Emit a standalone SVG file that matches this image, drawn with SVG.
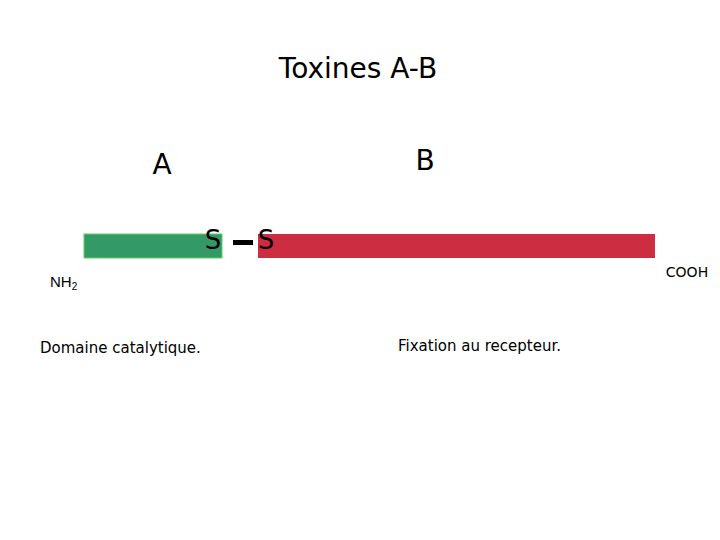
<svg xmlns="http://www.w3.org/2000/svg" width="720" height="540" viewBox="0 0 720 540">
<style>.t{font-family:"DejaVu Sans",sans-serif;fill:#000}</style>
<rect width="720" height="540" fill="#fff"/>
<text class="t" x="358" y="78" font-size="28" text-anchor="middle">Toxines A-B</text>
<text class="t" x="162" y="174" font-size="28" text-anchor="middle">A</text>
<text class="t" x="425" y="170" font-size="28" text-anchor="middle">B</text>
<g id="chainA"><rect x="84" y="234" width="138" height="24" fill="#339966" stroke="#66cc66" stroke-width="1"/></g>
<g id="chainB"><rect x="258" y="234" width="397" height="24" fill="#cc2d40"/></g>
<g id="connectors"><rect x="233" y="240" width="20" height="5" fill="#000"/></g>
<text class="t" x="213" y="249" font-size="26" text-anchor="middle">S</text>
<text class="t" x="266" y="249" font-size="26" text-anchor="middle">S</text>
<text x="50" y="287" font-family="Liberation Sans,sans-serif" font-size="15">NH<tspan font-size="10" dy="3">2</tspan></text>
<text class="t" x="687" y="277" font-size="14" text-anchor="middle">COOH</text>
<text class="t" x="40" y="353" font-size="15">Domaine catalytique.</text>
<text class="t" x="398" y="351" font-size="15">Fixation au recepteur.</text>
</svg>
